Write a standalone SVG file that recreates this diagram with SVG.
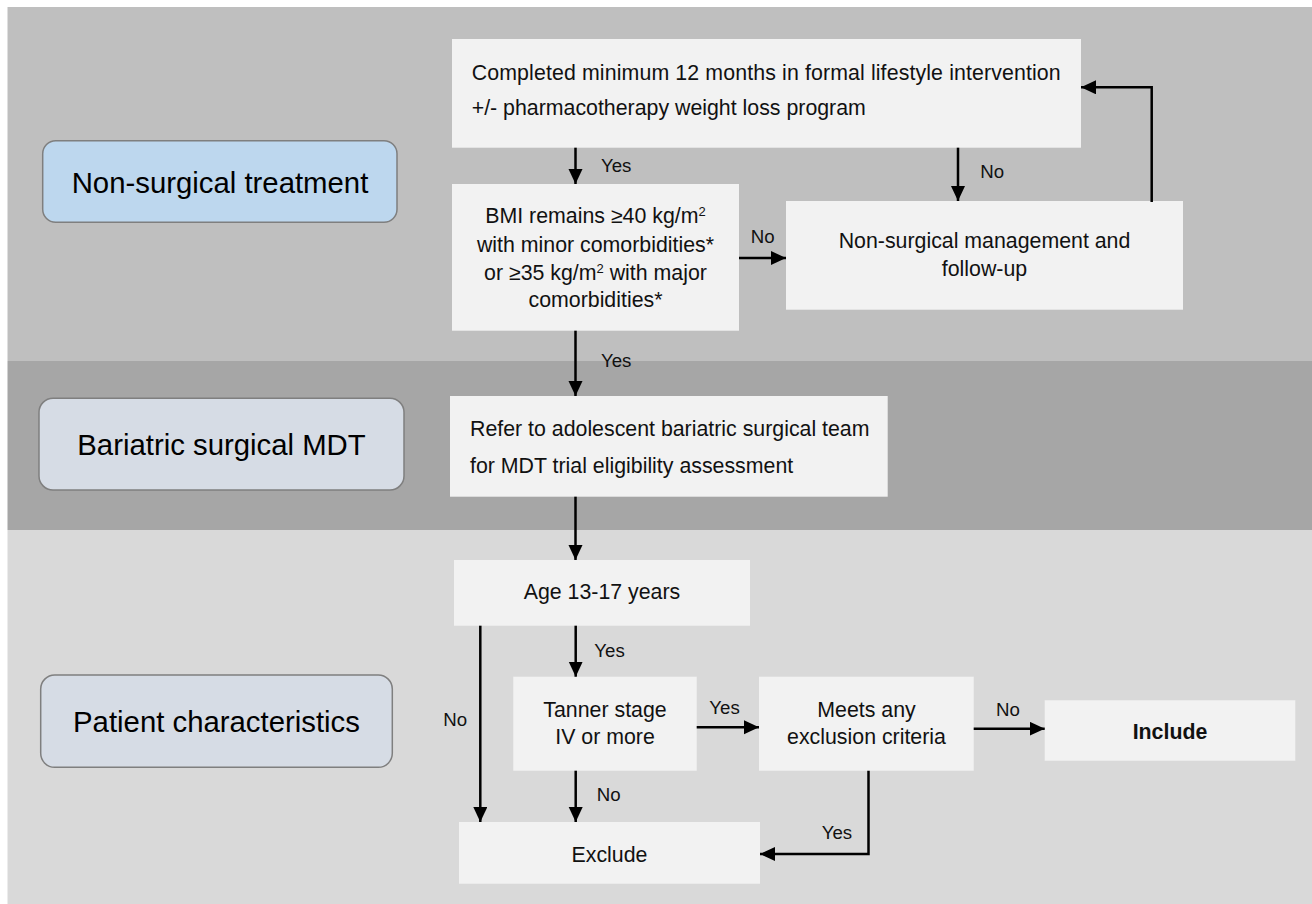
<svg xmlns="http://www.w3.org/2000/svg" width="1312" height="904" viewBox="0 0 1312 904">
<style>
  .lane { stroke: #7f7f7f; stroke-width: 1.5; }
  .box { fill: #f2f2f2; }
  .lt { font-family: "Liberation Sans", Arial, sans-serif; font-size: 29.33px; fill: #000; text-anchor: middle; }
  .bt { font-family: "Liberation Sans", Arial, sans-serif; font-size: 21.33px; fill: #111; }
  .c { text-anchor: middle; }
  .lbl { font-family: "Liberation Sans", Arial, sans-serif; font-size: 18.67px; fill: #111; }
  .sup { font-size: 13px; }
  .conn { fill: none; stroke: #000; stroke-width: 2.5; marker-end: url(#arr); }
</style>
<defs>
  <marker id="arr" markerUnits="userSpaceOnUse" markerWidth="16" markerHeight="15" refX="15" refY="7" orient="auto">
    <path d="M0,0 L15,7 L0,14 z" fill="#000"/>
  </marker>
</defs>
<rect width="1312" height="904" fill="#ffffff"/>
<g id="bands">
  <rect x="7.5" y="7" width="1304.5" height="354" fill="#bfbfbf"/>
  <rect x="7.5" y="361" width="1304.5" height="169" fill="#a6a6a6"/>
  <rect x="7.5" y="530" width="1304.5" height="374" fill="#d9d9d9"/>
</g>
<g id="lane-nonsurgical">
  <rect class="lane" x="42.7" y="140.7" width="354.3" height="81.6" rx="13" fill="#bdd7ee"/>
  <text class="lt" x="220" y="192.7">Non-surgical treatment</text>
</g>
<g id="lane-mdt">
  <rect class="lane" x="39" y="398.3" width="365" height="91.7" rx="14" fill="#d6dce5"/>
  <text class="lt" x="221.5" y="455">Bariatric surgical MDT</text>
</g>
<g id="lane-patient">
  <rect class="lane" x="40.7" y="675" width="351.6" height="92.3" rx="14" fill="#d6dce5"/>
  <text class="lt" x="216.5" y="731.7">Patient characteristics</text>
</g>
<g id="completed">
  <rect class="box" x="452" y="39" width="629" height="108.7"/>
  <text class="bt" x="471.7" y="80" textLength="589" lengthAdjust="spacing">Completed minimum 12 months in formal lifestyle intervention</text>
  <text class="bt" x="471.7" y="115">+/- pharmacotherapy weight loss program</text>
</g>
<g id="bmi">
  <rect class="box" x="452" y="184" width="287" height="146.7"/>
  <text class="bt c" x="595.5" y="223.3">BMI remains ≥40 kg/m<tspan class="sup" baseline-shift="super">2</tspan></text>
  <text class="bt c" x="595.5" y="251.7">with minor comorbidities*</text>
  <text class="bt c" x="595.5" y="280">or ≥35 kg/m<tspan class="sup" baseline-shift="super">2</tspan> with major</text>
  <text class="bt c" x="595.5" y="307.3">comorbidities*</text>
</g>
<g id="nonsurgical-mgmt">
  <rect class="box" x="786" y="201" width="397" height="108.7"/>
  <text class="bt c" x="984.5" y="248.3">Non-surgical management and</text>
  <text class="bt c" x="984.5" y="276">follow-up</text>
</g>
<g id="refer">
  <rect class="box" x="450" y="396" width="437.7" height="100.7"/>
  <text class="bt" x="470" y="436">Refer to adolescent bariatric surgical team</text>
  <text class="bt" x="470" y="472.7">for MDT trial eligibility assessment</text>
</g>
<g id="age">
  <rect class="box" x="454" y="560" width="296" height="65.7"/>
  <text class="bt c" x="602" y="599.3">Age 13-17 years</text>
</g>
<g id="tanner">
  <rect class="box" x="513.3" y="676.7" width="183.4" height="94"/>
  <text class="bt c" x="605" y="716.7">Tanner stage</text>
  <text class="bt c" x="605" y="744">IV or more</text>
</g>
<g id="meets">
  <rect class="box" x="759" y="676.7" width="214.7" height="94"/>
  <text class="bt c" x="866.5" y="716.7">Meets any</text>
  <text class="bt c" x="866.5" y="744.3">exclusion criteria</text>
</g>
<g id="include">
  <rect class="box" x="1044.7" y="700.3" width="250.6" height="60.4"/>
  <text class="bt c" x="1170" y="739" font-weight="bold">Include</text>
</g>
<g id="exclude">
  <rect class="box" x="459" y="822" width="301" height="61.7"/>
  <text class="bt c" x="609.5" y="861.7">Exclude</text>
</g>
<g id="connectors">
  <path class="conn" d="M575.5,147.7 V184"/>
  <path class="conn" d="M958,147.7 V201"/>
  <path class="conn" d="M739,258 H786"/>
  <path class="conn" d="M1151.7,202 V87.3 H1081"/>
  <path class="conn" d="M575.5,330.7 V396"/>
  <path class="conn" d="M575.5,496.7 V560"/>
  <path class="conn" d="M480.3,625.7 V822"/>
  <path class="conn" d="M575.7,625.7 V676.7"/>
  <path class="conn" d="M696.7,727.3 H759"/>
  <path class="conn" d="M575.7,770.7 V822"/>
  <path class="conn" d="M973.7,728.7 H1044.7"/>
  <path class="conn" d="M868.5,770.7 V854 H760"/>
  <text class="lbl" x="601" y="171.7">Yes</text>
  <text class="lbl" x="980.3" y="177.7">No</text>
  <text class="lbl" x="750.7" y="243.3">No</text>
  <text class="lbl" x="601" y="366.7">Yes</text>
  <text class="lbl" x="594.3" y="656.7">Yes</text>
  <text class="lbl" x="443.3" y="726">No</text>
  <text class="lbl" x="709.3" y="714">Yes</text>
  <text class="lbl" x="596.7" y="801">No</text>
  <text class="lbl" x="996" y="716">No</text>
  <text class="lbl" x="821.7" y="839">Yes</text>
</g>
</svg>
